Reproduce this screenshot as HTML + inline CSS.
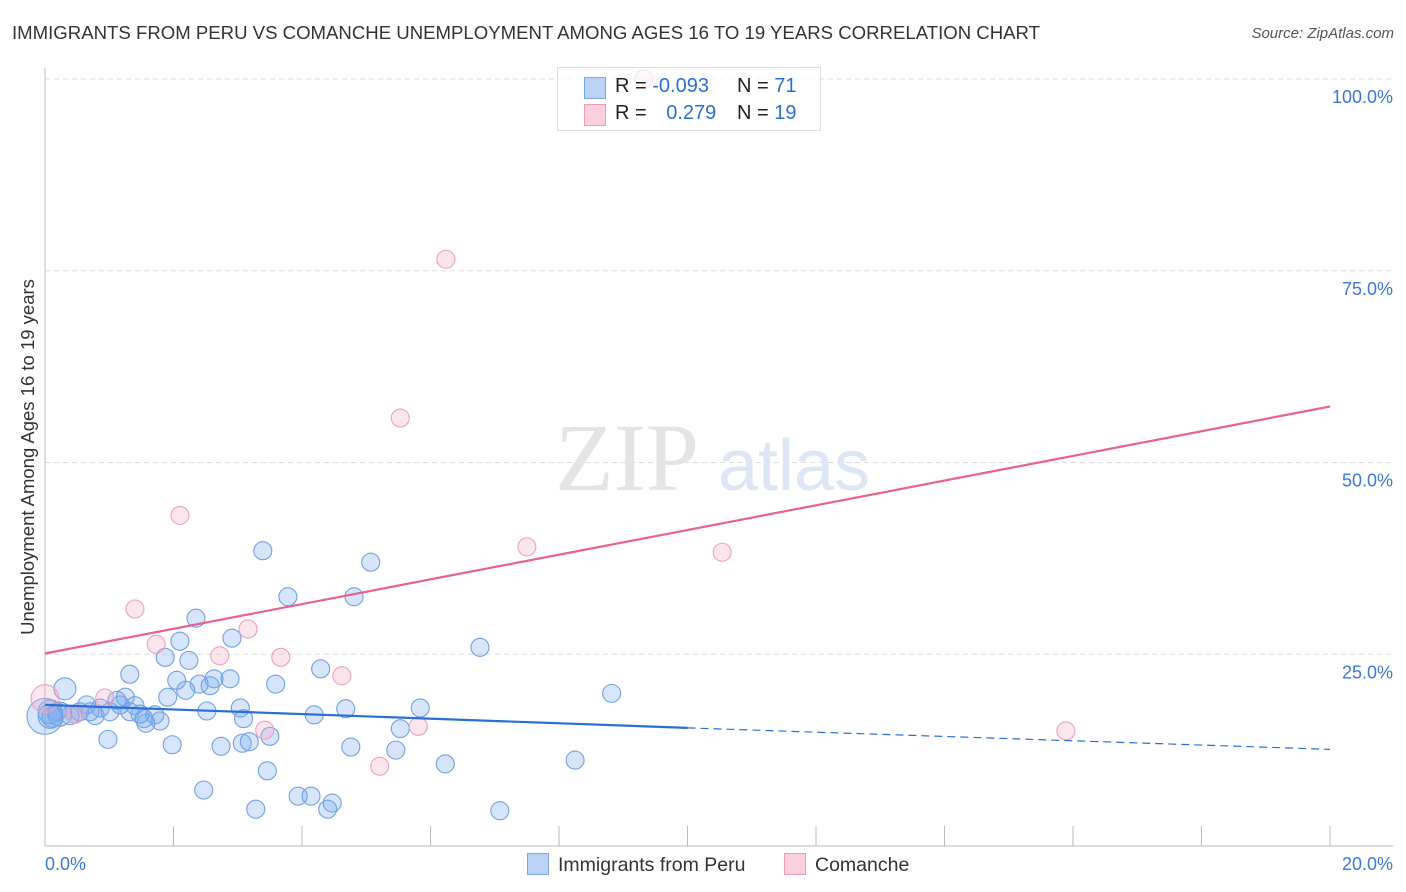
<!DOCTYPE html>
<html><head><meta charset="utf-8"><style>
body{margin:0;background:#fff;font-family:"Liberation Sans",sans-serif;}
#wrap{position:relative;width:1406px;height:892px;overflow:hidden;}
.t{position:absolute;white-space:nowrap;}
</style></head><body>
<div id="wrap">
<div class="t" style="left:12px;top:22px;font-size:18.6px;color:#333;">IMMIGRANTS FROM PERU VS COMANCHE UNEMPLOYMENT AMONG AGES 16 TO 19 YEARS CORRELATION CHART</div>
<div class="t" style="right:12px;top:25px;font-size:15px;color:#555;font-style:italic;">Source: ZipAtlas.com</div>
<svg id="chart" width="1406" height="892" style="position:absolute;left:0;top:0"></svg>
</div>
<script>
const xTicks=[0,2,4,6,8,10,12,14,16,18,20];
const yTicks=[25,50,75,100];
const peruX=[3.39,5.07,3.78,4.81,2.35,2.10,2.91,6.77,1.87,2.24,4.29,1.32,3.59,2.05,2.40,2.63,2.88,2.19,2.57,8.82,1.91,0.31,1.25,1.12,3.04,2.52,4.68,5.84,0.65,0.86,1.40,1.71,1.54,1.79,1.57,4.19,3.09,5.53,0.19,0.47,0.78,1.01,1.48,0.39,0.54,0.98,1.98,2.74,3.07,3.18,3.50,4.76,5.46,8.25,6.23,3.46,2.47,3.94,4.14,4.47,4.40,3.28,7.08,0.0,0.08,0.23,0.11,0.70,1.32,1.17,0.08];
const peruY=[38.5,37.0,32.5,32.5,29.7,26.7,27.1,25.9,24.6,24.2,23.1,22.4,21.1,21.6,21.1,21.8,21.8,20.3,20.9,19.9,19.4,20.5,19.4,19.0,18.0,17.6,17.9,18.0,18.4,18.0,18.3,17.1,16.6,16.3,16.0,17.1,16.6,15.3,17.5,17.2,17.0,17.5,17.2,17.0,17.5,13.9,13.2,13.0,13.4,13.6,14.3,12.9,12.5,11.2,10.7,9.8,7.3,6.5,6.5,5.6,4.8,4.8,4.6,16.9,17.5,17.2,16.8,17.5,17.5,18.4,16.9];
const peruR=[9,9,9,9,9,9,9,9,9,9,9,9,9,9,9,9,9,9,9,9,9,11,9,9,9,9,9,9,9,9,9,9,9,9,9,9,9,9,9,9,9,9,9,9,9,9,9,9,9,9,9,9,9,9,9,9,9,9,9,9,9,9,9,18,12,12,10,9,9,9,12];
const comX=[9.32,6.24,5.53,2.10,7.50,10.54,1.40,3.16,1.73,2.72,3.67,4.62,0.93,3.42,5.81,5.21,15.89,0.0,0.47];
const comY=[100,76.5,55.8,43.1,39.0,38.3,30.9,28.3,26.3,24.8,24.6,22.2,19.3,15.1,15.6,10.4,15.0,19.2,17.2];
const comR=[9,9,9,9,9,9,9,9,9,9,9,9,9,9,9,9,9,14,9];
const peruLine=[18.4,15.4,12.6];
const comLine=[25.1,57.3];

const X0=45,X1=1330,YB=846,YT=79;
const sx=v=>X0+(X1-X0)*v/20;
const sy=v=>YB-(YB-YT)*v/100;
const svg=document.getElementById('chart');
const NS='http://www.w3.org/2000/svg';
function mk(tag,attrs){const e=document.createElementNS(NS,tag);for(const k in attrs)e.setAttribute(k,attrs[k]);svg.appendChild(e);return e;}

yTicks.forEach(v=>{
  const g=mk('line',{x1:X0,x2:1393,y1:sy(v),y2:sy(v),stroke:'#ddd','stroke-dasharray':'5,4'});
  
  
  const t=mk('text',{x:1393,y:sy(v)+24,'text-anchor':'end','font-size':18,fill:'#3b78d8','font-family':'Liberation Sans, sans-serif'});
  t.textContent=v.toFixed(1)+'%';
  
  
});
const ax=mk('line',{x1:X0,x2:1393,y1:YB,y2:YB,stroke:'#bbb'});


const ay=mk('line',{x1:X0,x2:X0,y1:68,y2:YB,stroke:'#bbb'});


xTicks.forEach(v=>{
  const l=mk('line',{x1:sx(v),x2:sx(v),y1:826,y2:YB,stroke:'#bbb'});
  
  
});
[[0,'start'],[20,'end']].forEach(([v,a])=>{
  const t=mk('text',{x:v==0?45:1393,y:870,'text-anchor':a,'font-size':18,fill:'#3b78d8','font-family':'Liberation Sans, sans-serif'});
  t.textContent=v.toFixed(1)+'%';
  
  
});
const yt=mk('text',{x:0,y:0,transform:'translate(34,457) rotate(-90)','text-anchor':'middle','font-size':18.5,fill:'#333','font-family':'Liberation Sans, sans-serif'});
yt.textContent='Unemployment Among Ages 16 to 19 years';


const wm=mk('text',{x:555,y:490,'font-size':96,fill:'#e4e4e4','font-family':'Liberation Serif, serif'});
wm.textContent='ZIP';


const wm2=mk('text',{x:718,y:490,'font-size':72,fill:'#dce6f5','font-family':'Liberation Sans, sans-serif'});
wm2.textContent='atlas';



peruX.forEach((x,i)=>{
  const c=mk('circle',{cx:sx(x),cy:sy(peruY[i]),r:peruR[i],fill:'rgba(120,168,238,0.3)',stroke:'#72a0e2','stroke-width':1.1});
  
  
});
comX.forEach((x,i)=>{
  const c=mk('circle',{cx:sx(x),cy:sy(comY[i]),r:comR[i],fill:'rgba(245,165,195,0.28)',stroke:'#eea0bc','stroke-width':1.1});
  
  
});
const pl=mk('line',{x1:sx(0),y1:sy(comLine[0]),x2:sx(20),y2:sy(comLine[1]),stroke:'#e8628e','stroke-width':2.2});


const bl=mk('line',{x1:sx(0),y1:sy(peruLine[0]),x2:sx(10),y2:sy(peruLine[1]),stroke:'#2a6fd6','stroke-width':2.2});


const bd=mk('line',{x1:sx(10),y1:sy(peruLine[1]),x2:sx(20),y2:sy(peruLine[2]),stroke:'#2a6fd6','stroke-width':1.2,'stroke-dasharray':'8,5'});


</script>
<div class="t" style="left:557px;top:67px;width:262px;height:62px;border:1px solid #ddd;background:rgba(255,255,255,0.7);font-size:20px;">
 <div class="t" style="left:26px;top:9px;width:20px;height:20px;background:#bcd3f5;border:1px solid #7aa6e6;"></div>
 <div class="t" style="left:57px;top:7px;color:#222;">R = <span style="color:#2a6fd6">-0.093</span></div>
 <div class="t" style="left:179px;top:7px;color:#222;">N = <span style="color:#2a6fd6">71</span></div>
 <div class="t" style="left:26px;top:36px;width:20px;height:20px;background:#fbcfdd;border:1px solid #ef9ab8;"></div>
 <div class="t" style="left:57px;top:34px;color:#222;">R = <span style="color:#2a6fd6;margin-left:14px">0.279</span></div>
 <div class="t" style="left:179px;top:34px;color:#222;">N = <span style="color:#2a6fd6">19</span></div>
</div>
<div class="t" style="left:527px;top:853px;font-size:19.5px;color:#333;"><span style="display:inline-block;width:20px;height:20px;background:#bcd3f5;border:1px solid #7aa6e6;vertical-align:-4px;margin-right:9px"></span>Immigrants from Peru</div>
<div class="t" style="left:784px;top:853px;font-size:19.5px;color:#333;"><span style="display:inline-block;width:20px;height:20px;background:#fbcfdd;border:1px solid #ef9ab8;vertical-align:-4px;margin-right:9px"></span>Comanche</div>
</body></html>
